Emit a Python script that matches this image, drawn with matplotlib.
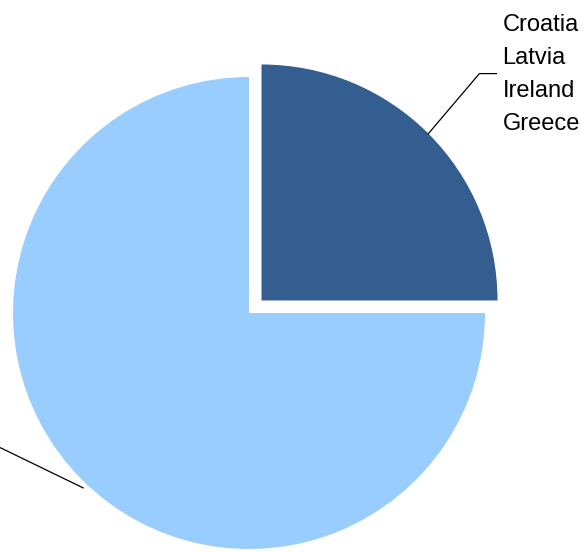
import matplotlib.pyplot as plt
import numpy as np

# --- dados ---
grupos = ['Croatia\nLatvia\nIreland\nGreece', 'Outros']
valores = [25, 75]
CORES = ['#335E8F', '#99CCFF']

fig = plt.figure(figsize=(5.84, 5.52), dpi=100)
ax = fig.add_axes([0, 0, 1, 1])

centro = (249, 239)
raio = 236
# explode no pie é em unidades de dados
explode = [0.075 * raio, 0]

wedges, _ = ax.pie(valores, colors=CORES, startangle=0, counterclock=True,
                   center=centro, radius=raio, explode=explode,
                   wedgeprops=dict(linewidth=0))

ax.set_aspect('auto')
ax.set_xlim(0, 584)
ax.set_ylim(0, 552)
ax.axis('off')

# --- linhas de chamada ---
# fatia escura (ângulo médio 45 graus)
w = wedges[0]
ang = np.deg2rad((w.theta1 + w.theta2) / 2)
cx, cy = w.center
x0, y0 = cx + raio * np.cos(ang), cy + raio * np.sin(ang)
x1, y1 = x0 + 51, y0 + 60
ax.plot([x0, x1, x1 + 17], [y0, y1, y1], color='black', lw=0.9, clip_on=False)
ax.text(x1 + 23, y1 + 60, grupos[0], ha='left', va='top', fontsize=17,
        family='Liberation Sans', linespacing=1.66)

# fatia clara (rótulo fora da área visível)
w = wedges[1]
ang = np.deg2rad((w.theta1 + w.theta2) / 2)
cx, cy = w.center
x0, y0 = cx + raio * np.cos(ang), cy + raio * np.sin(ang)
ax.plot([x0 + 1, x0 - 100], [y0 - 8, y0 - 8 + 49], color='black', lw=0.9, clip_on=True)

fig.savefig('out.png', dpi=100)
